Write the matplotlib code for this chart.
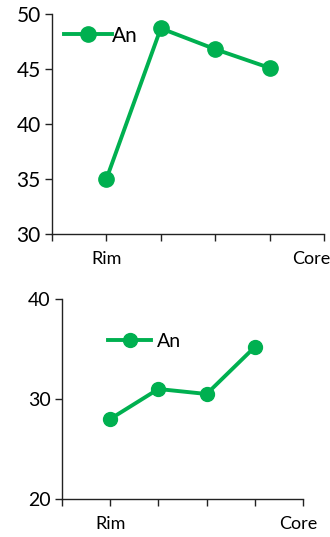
import matplotlib
matplotlib.use("Agg")
import matplotlib.pyplot as plt
import matplotlib.transforms as mtransforms

plt.rcParams['font.family'] = ['Lato', 'DejaVu Sans']

# Data
positions = [1, 2, 3, 4]
top_values = [35.0, 48.7, 46.8, 45.1]
bottom_values = [28.0, 31.0, 30.5, 35.2]
series_name = "An"
tick_positions = [0, 1, 2, 3, 4, 5]
tick_labels = ["", "Rim", "", "", "", "Core"]
top_yticks = [30, 35, 40, 45, 50]
bottom_yticks = [20, 30, 40]

GREEN = "#00B050"
W, H = 330, 537
fig = plt.figure(figsize=(W / 100, H / 100), dpi=100)

def make_axes(l, r, t, b):
    return fig.add_axes([l / W, 1 - b / H, (r - l) / W, (b - t) / H])

def style(ax, ylim, yticks, yfs, xfs, lfs, hl, htp, legend_anchor, core_shift):
    ax.set_xlim(0, 5)
    ax.set_ylim(*ylim)
    ax.set_yticks(yticks)
    ax.set_xticks(tick_positions)
    ax.set_xticklabels(tick_labels)
    for s in ("top", "right"):
        ax.spines[s].set_visible(False)
    for s in ("left", "bottom"):
        ax.spines[s].set_color("#222222")
        ax.spines[s].set_linewidth(1.0)
    ax.tick_params(axis="y", direction="out", length=5, width=1, colors="#222222",
                   labelsize=yfs, labelcolor="black", pad=3)
    ax.tick_params(axis="x", direction="out", length=5, width=1, colors="#222222",
                   labelsize=xfs, labelcolor="black", pad=7)
    lbl = ax.get_xticklabels()[-1]
    lbl.set_transform(lbl.get_transform() + mtransforms.ScaledTranslation(core_shift / 100, 0, fig.dpi_scale_trans))
    ax.legend(loc="upper left", bbox_to_anchor=legend_anchor, frameon=False,
              fontsize=lfs, handlelength=hl, handletextpad=htp, borderaxespad=0)

ax1 = make_axes(52, 324, 14, 234)
ax1.plot(positions, top_values, color=GREEN, lw=2.8, marker="o", ms=11, label=series_name)
style(ax1, (30, 50), top_yticks, 15, 13, 15, 2.3, 0.0, (0.015, 0.985), -13)

ax2 = make_axes(62, 303, 299, 499)
ax2.plot(positions, bottom_values, color=GREEN, lw=2.8, marker="o", ms=10, label=series_name)
style(ax2, (20, 40), bottom_yticks, 14, 13, 14, 2.2, 0.3, (0.16, 0.87), -5)

fig.savefig("out.png", dpi=100)
